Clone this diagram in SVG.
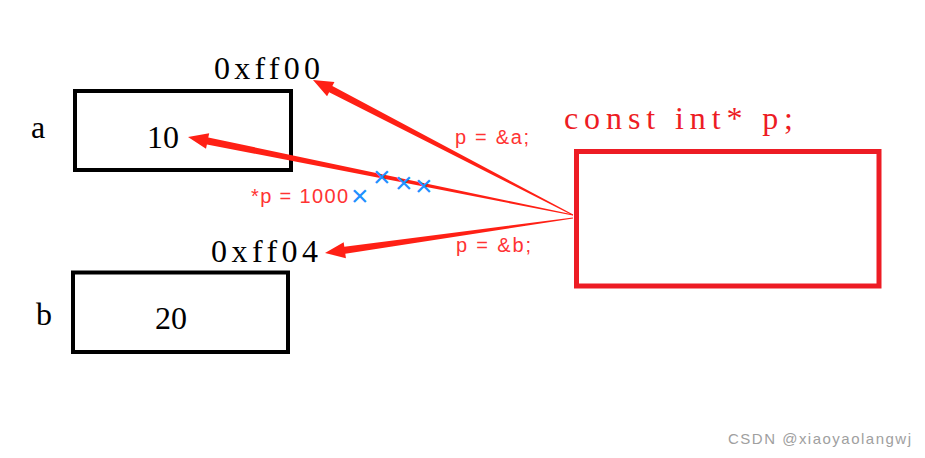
<svg xmlns="http://www.w3.org/2000/svg" width="925" height="458" viewBox="0 0 925 458">
<style>
.box{fill:#fff;stroke:#000;stroke-width:4}
.pbox{fill:#fff;stroke:#ED1C24;stroke-width:5}
.mono{font-family:"Liberation Serif","DejaVu Serif",serif;font-size:32px}
.serif{font-family:"Liberation Serif","DejaVu Serif",serif;font-size:32px;fill:#000}
.lbl{font-family:"Liberation Sans",Arial,sans-serif;font-size:20px;fill:#FF3333}
.x{font-family:"Liberation Sans",Arial,sans-serif;font-size:30px;fill:#1E90FF}
.arrow{fill:#FF2015}
</style>
<rect width="925" height="458" fill="#fff"/>
<g id="var-a">
<text class="serif" x="31" y="138">a</text>
<rect class="box" x="75" y="91" width="216" height="79"/>
<text class="serif" x="147" y="148">10</text>
<text class="mono" x="214" y="79" fill="#000" textLength="106" lengthAdjust="spacing">0xff00</text>
</g>
<g id="var-b">
<text class="serif" x="36" y="325">b</text>
<rect class="box" x="73" y="272.5" width="215" height="79.5"/>
<text class="serif" x="155" y="329">20</text>
<text class="mono" x="211" y="262" fill="#000" textLength="107" lengthAdjust="spacing">0xff04</text>
</g>
<g id="pointer-p">
<text class="mono" x="564" y="129" fill="#ED1C24" textLength="229" lengthAdjust="spacing">const int* p;</text>
<rect class="pbox" x="576.5" y="151.5" width="302.5" height="134.5"/>
</g>
<g id="connectors">
<polygon class="arrow" points="573.23,214.56 332.36,86.11 334.44,82.12 313,80 327.06,96.32 329.14,92.33 572.77,215.44"/>
<polygon class="arrow" points="573.10,214.51 208.30,137.54 209.19,133.13 188,137 206.01,148.81 206.91,144.40 572.90,215.49"/>
<polygon class="arrow" points="572.93,217.50 344.31,246.74 343.68,242.29 325,253 345.92,258.13 345.29,253.68 573.07,218.50"/>
<text class="lbl" x="455" y="144" textLength="74">p = &amp;a;</text>
<text class="lbl" x="456" y="252" textLength="75">p = &amp;b;</text>
<text class="lbl" x="251" y="203" textLength="97">*p = 1000</text>
<text class="x" x="351" y="206">×</text>
<text class="x" x="373" y="187">×</text>
<text class="x" x="395" y="193">×</text>
<text class="x" x="415" y="196">×</text>
</g>
<text x="728" y="444" font-family="'Liberation Sans',Arial,sans-serif" font-size="15" fill="#A0A0A0" textLength="183">CSDN @xiaoyaolangwj</text>
</svg>
